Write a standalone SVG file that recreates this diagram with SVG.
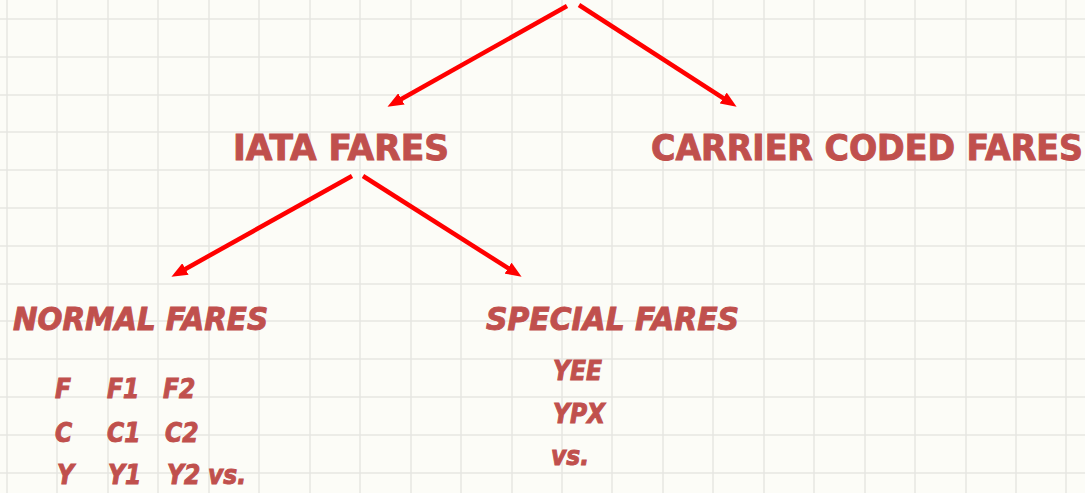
<svg xmlns="http://www.w3.org/2000/svg" width="1085" height="493" viewBox="0 0 1085 493">
  <style>
    .grid { stroke: #e6e6e2; stroke-width: 1.5; fill: none; }
    .conn { stroke: #ff0000; stroke-width: 4.5; fill: none; marker-end: url(#ah); }
    .t { fill: #c0504d; stroke: #c0504d; stroke-width: 0.9; font-family: "DejaVu Sans Condensed", "DejaVu Sans", sans-serif; font-weight: bold; }
    .h1 { font-size: 36px; }
    .h2 { font-size: 32px; font-style: italic; }
    .it { font-size: 26px; font-style: italic; }
  </style>
  <defs>
    <marker id="ah" viewBox="0 0 16 13" refX="0.5" refY="6.5" markerWidth="16" markerHeight="13" markerUnits="userSpaceOnUse" orient="auto">
      <path d="M0,0 L16,6.5 L0,13 z" fill="#ff0000"/>
    </marker>
  </defs>
  <rect x="0" y="0" width="1085" height="493" fill="#fcfcf7"/>
  <path class="grid" d="M7,0V493 M57,0V493 M108,0V493 M158,0V493 M209,0V493 M259,0V493 M310,0V493 M360,0V493 M411,0V493 M461,0V493 M512,0V493 M562,0V493 M612,0V493 M663,0V493 M713,0V493 M764,0V493 M814,0V493 M865,0V493 M915,0V493 M966,0V493 M1016,0V493 M1066,0V493 M0,19H1085 M0,57H1085 M0,95H1085 M0,132H1085 M0,170H1085 M0,208H1085 M0,246H1085 M0,284H1085 M0,321H1085 M0,359H1085 M0,397H1085 M0,435H1085 M0,473H1085"/>
  <g id="connectors">
    <line class="conn" x1="567" y1="6" x2="401" y2="99.2"/>
    <line class="conn" x1="579" y1="5" x2="723.6" y2="98.3"/>
    <line class="conn" x1="352" y1="176" x2="185" y2="269.2"/>
    <line class="conn" x1="363" y1="176" x2="508.5" y2="268.4"/>
  </g>
  <g id="iata">
    <text class="t h1" x="233" y="160" textLength="216" lengthAdjust="spacingAndGlyphs">IATA FARES</text>
  </g>
  <g id="carrier">
    <text class="t h1" x="651" y="160" textLength="432" lengthAdjust="spacingAndGlyphs">CARRIER CODED FARES</text>
  </g>
  <g id="normal">
    <text class="t h2" x="13" y="330" textLength="255" lengthAdjust="spacingAndGlyphs">NORMAL FARES</text>
    <text class="t it" x="55" y="398">F</text>
    <text class="t it" x="107" y="398">F1</text>
    <text class="t it" x="163" y="398">F2</text>
    <text class="t it" x="55" y="442">C</text>
    <text class="t it" x="107" y="442">C1</text>
    <text class="t it" x="165" y="442">C2</text>
    <text class="t it" x="57" y="484">Y</text>
    <text class="t it" x="108" y="484">Y1</text>
    <text class="t it" x="167" y="484">Y2</text>
    <text class="t it" x="208" y="484">vs.</text>
  </g>
  <g id="special">
    <text class="t h2" x="486" y="330" textLength="253" lengthAdjust="spacingAndGlyphs">SPECIAL FARES</text>
    <text class="t it" x="553" y="380">YEE</text>
    <text class="t it" x="553" y="423">YPX</text>
    <text class="t it" x="551" y="465">vs.</text>
  </g>
</svg>
